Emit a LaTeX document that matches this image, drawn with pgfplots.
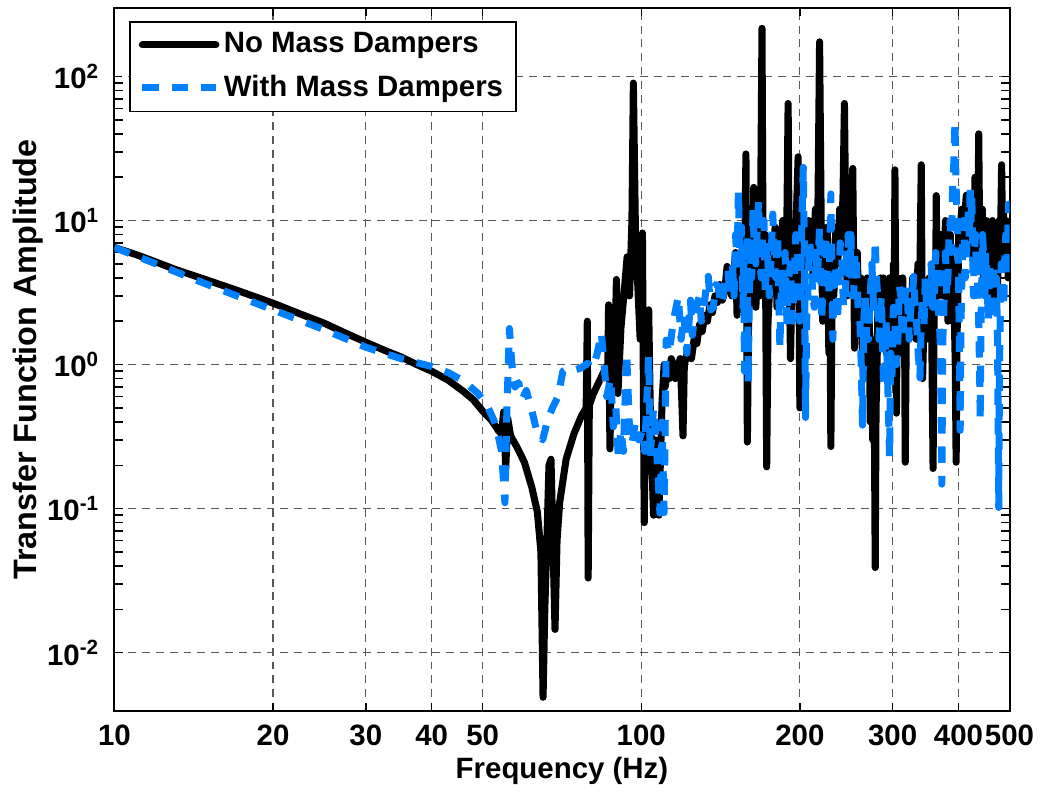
\documentclass[border=0pt]{standalone}
\usepackage{fontspec}
\setmainfont{Liberation Sans}
\usepackage{pgfplots}
\pgfplotsset{compat=1.18}
\definecolor{mdblue}{RGB}{0,128,255}

\begin{document}
\fontsize{10}{12}\selectfont\bfseries
\begin{tikzpicture}
\begin{axis}[
    xmode=log, ymode=log,
    scale only axis,
    width=304.3pt, height=238.9pt,
    xmin=10, xmax=500, ymin=0.00394, ymax=298,
    xtick={10,20,30,40,50,100,200,300,400,500},
    xticklabels={10,20,30,40,50,100,200,300,400,500},
    ytick={0.01,0.1,1,10,100},
    yticklabels={10\textsuperscript{-2},10\textsuperscript{-1},10\textsuperscript{0},10\textsuperscript{1},10\textsuperscript{2}},
    minor xtick={}, minor ytick={},
    tick align=inside,
    major tick length=2.7pt,
    tick style={black, line width=0.5pt},
    grid=major,
    grid style={dash pattern=on 2.7pt off 2pt, black!65, line width=0.4pt},
    axis line style={line width=0.7pt},
    tick label style={font=\fontsize{10}{12}\selectfont\bfseries},
    xticklabel style={anchor=base, yshift=-11.6pt},
    yticklabel style={xshift=-1.5pt},
    xlabel={Frequency (Hz)},
    ylabel={Transfer Function Amplitude},
    xlabel style={at={(axis description cs:0.5,0)}, anchor=center, yshift=-20.4pt, font=\fontsize{10}{12}\selectfont\bfseries},
    ylabel style={at={(axis description cs:-0.096,0.5)}, anchor=center, font=\fontsize{11}{12}\selectfont\bfseries},
    legend cell align=left,
    legend image code/.code={\draw[#1] (0pt,0pt) -- (25pt,0pt);},
    legend style={at={(axis description cs:0,1)}, anchor=north west,
        xshift=5pt, yshift=-4.3pt, draw=black, line width=0.6pt, fill=white,
        inner xsep=3pt, inner ysep=2.2pt, row sep=3pt,
        nodes={inner sep=1.5pt},
        font=\fontsize{10}{12}\selectfont\bfseries},
]
% no mass dampers
\addplot[black, line width=2.4pt, line join=round, line cap=round] table {
f A
10 6.5
11 5.8
12 5.15
13 4.6
14 4.2
15 3.86
17 3.3
20 2.67
22.5 2.25
25 1.94
27.5 1.65
30 1.43
32.5 1.26
35 1.13
37.5 1.0
40 0.90
43 0.78
46 0.65
48 0.57
50 0.475
52 0.41
53.5 0.35
54.3 0.33
54.8 0.47
55.3 0.19
55.8 0.42
56.5 0.32
58 0.27
60 0.21
62 0.14
63.5 0.095
64.5 0.05
65.1 0.0049
65.6 0.02
66.2 0.06
66.8 0.2
67.4 0.22
68.6 0.0145
69.2 0.06
70 0.11
72 0.22
74.5 0.33
77 0.44
78.6 0.5
79 2.0
79.3 0.033
79.7 0.52
81 0.62
83 0.75
85 0.9
86.4 1.0
86.7 2.6
87.2 0.26
87.8 1.1
89.2 1.4
89.7 3.9
90.3 0.63
91.5 1.8
93 3.5
94 5.6
95 3.0
96 10
96.6 90
97.5 8
98.5 3.5
99.5 1.5
100.5 8.2
101.3 0.08
102 0.8
103.3 2.4
104 0.5
105.5 0.09
106.5 0.3
108 0.09
109.5 0.55
110.5 1.0
111 0.7
112 0.9
113 0.8
114 1.1
115 1.0
116 0.8
117 0.9
118.5 1.1
119.3 0.6
120 0.32
120.7 1.0
121.5 1.1
123 1.3
124.5 1.1
126 1.5
127.5 1.4
129 1.9
130.5 1.7
132 2.2
133.5 2.0
135 2.6
136.5 2.3
138 3.0
139.5 2.7
141 3.6
142.5 2.8
144 3.2
145.5 4.8
147 4.2
148.5 3.0
150 4.5
151 6
152 2.2
153 4.5
154 3.6
155 6
156 2.4
157 4
158 29
159 0.29
160 3
160.5 5
161.2 3.5
162 8
162.8 5
163.5 17
164.2 6
165 2.5
166 4
167 6
168 3
169.5 216
170.3 5
171 3
172 8
173 0.195
174 2
175 3
176.5 7
178 5
179.5 9
181 2.5
182.5 5
184 4
185.5 10
187 8
188.5 4
190 65
191 4
192 1.1
193.5 5
195 3
196.5 8
198.5 27.7
199.3 3
200 0.5
201.5 4
203 3
204.5 6
206 5
208 10
210 8
212 4
214 12
216 6
218 174
219.5 10
221 2
222.5 8
224 5
225.5 9
227 1.2
228 4
229 0.27
230.5 6
232 3
234 9
236 5
238 12
240 8
241.5 15
243 65
244.5 8
246 3
247.5 10
249 20
250.5 6
252 23
253 5
254 1.3
255.5 5
257 6
259 2
261 4
262.5 1.5
264 0.8
265.5 3
267 2
268.5 4
270 1.0
271 2
272 0.4
273.5 1.5
275 0.3
276.5 1.2
278 0.039
279 0.5
280 0.8
281.5 3
283 2
284.5 4
286 1.5
288 4
290 3
292 1.2
294 2
296 4
298 2.5
299.5 1.0
301 5
302 2
303 22.5
304 3
305 0.46
306.5 4
308 3
310 1.2
312 2
313.5 4
315 1.2
316 2
317 0.21
318.5 2
320 3
322.5 1.5
325 2
327.5 4
330 3
332.5 1.5
335 5
337.5 3
340 24.4
341 4
342 0.8
344 2
346 3
348 1.5
350 2
352 4
354 3.5
356 1.5
358 0.19
359.5 2
361 5
362 3
363 14.9
364.5 4
366 3
368 6
370 8
372 4
374 3
376 6
378 10
380 4
382 2
384 5
386 8
388 3
390 5
391.5 3
393 2
394.5 1
396 0.21
397.5 1.5
399 3
400.5 8
402 6
404 10
406 12
408 6
410 8
412 12
414 15
416 7
418 10
420 6
422 14
424 7
426 9
428 5
430 20
432 8
434 15
435.5 10
437 40
438.5 10
440 8
442 5
444 12
446 4
448 6
450 3
452 10
453.5 5
455 3
456.5 8
458 6
460 3
462 4
464 10
466 8
468 3
470 5
472 9
474 3
476 6
478 10
480 5
483 24.4
485 8
487 12
489 6
491 5
493 10
495 8
497 4
500 5
};
\addlegendentry{No Mass Dampers}
% with mass dampers
\addplot[mdblue, line width=2.4pt, dash pattern=on 5.5pt off 4.5pt, line join=round] table {
f A
10 6.5
12 5.0
15 3.6
20 2.4
25 1.75
30 1.32
35 1.1
40 0.97
43 0.88
46 0.77
49 0.63
51 0.52
53 0.38
54.3 0.25
55.1 0.11
55.6 0.5
56.2 1.78
56.8 1.0
57.6 0.70
58.5 0.75
59.5 0.58
60.5 0.66
62 0.48
63.5 0.33
65 0.30
66.5 0.42
68 0.51
69.5 0.6
71 0.9
72.5 0.95
75 0.92
77 0.95
79 1.02
81 0.95
82.5 1.2
84 1.66
85 1.0
86 0.6
87.5 0.8
88.5 0.37
89.5 0.5
90.5 0.22
91.5 0.35
92.5 0.25
93.8 1.2
95 0.35
96 0.28
97.5 0.4
99 0.3
100.5 0.35
101.5 0.25
103.3 1.14
104 0.23
105.5 0.5
107 0.25
108.5 0.093
109.5 0.4
110.5 0.094
111.5 1.48
113 1.2
115 2.0
117.6 2.97
119 1.5
120.5 2.2
122 1.2
123 1.8
124 2.8
125 1.6
126 2.0
127.5 2.6
129 3.0
130 2.0
131 2.2
132.5 3.2
134 4.1
135.5 2.4
137 2.5
138.5 3.6
140 3.5
141.5 2.6
143 3.0
144.5 4.0
146 4.5
147.5 3.0
149 5
150 3
151 8
152 5
152.9 16.1
153.5 8
154 5
155 9
156 2.5
156.5 5
157 0.9
157.5 4
158 4
158.8 8
159.6 0.74
160.3 3
161 6
162 4
163 12
164 6
165 5
166 9
167 13.8
168 5
169 4
170 8
171 10
172 3
173 7
174 5
175 3
176.5 6
177.7 11.1
179 5
180 4
181.5 8
183.3 1.3
184.5 4
186 3
187.5 6
189 2
190.5 4
192 5
193.5 2
195 3.5
196.5 8
198 6
199 3
200 2
201.5 8
203 23.4
204 6
205 0.43
206 2
207 3
208.5 7
210 6
211.5 3
213 2.5
214.5 6
216 4
218 9
220 2
222 5
224 8
225.5 4
227 3
228 6
229 15.3
230 5
231 1.5
232.5 4
234 5
235.5 2
237 3
238.5 7
240 6
242 2.5
244 3
245.5 6
247 8
248.5 4
250 8
251.5 3
253 3
254.5 6
256 5
258 2.5
260 2
261.5 1
263 0.38
264.5 2
266 3
268 1.5
270 1.5
272 3
274 5
276 2.5
278 7.3
279.5 4
281 3
282.5 1.5
284 2
285.5 3
287 1.5
288.5 0.7
290 0.8
291.5 2
293 1.0
294.5 0.5
296 0.23
297.5 1.2
299 0.8
301 2.5
303 2
305 1.0
307 1.5
309 3.5
311 3
313 1.5
315 2
317.5 3.5
320 3
322.5 1.5
325 2.5
327 3
329 4.1
331 2.5
333 2
335.5 1.2
338 0.81
340 2
342 3
344 1.8
346 4
348 2.5
350 3
352.5 4.5
355 5
357.5 2.5
360 3
362 6
364 5
366 2.5
368 2
370 1.2
372 0.148
373.5 1.5
375 2
376.5 5
378 6
380 3
382 4
384 8
386 10
388 6
390 18
392 25
394 48.5
395.5 20
397 12
398.5 8
400 5
401.5 1.5
403 0.35
404.5 2
406 4
408 10
410 8
412 4
414 5
416 9
418 12
419.5 7
421 18
422.5 10
424 15
425.5 6
427 3
429 6
431 8
432.5 4
434 5
435.5 3
437 2
438.5 1.0
440 0.41
441.5 2
443 4
444.5 8
446 6
447.5 4
449 3
450.5 6
452 5
454 3
456 2
458 5
460 4
462 2.5
464 3
466 5
468 2
470 3
472 4
474.5 1.5
477 0.102
478.5 1
480 2
482 5
484 4
486 2.5
488 3
490 6
492 8
493.5 4
495 5
496.5 9
498 13
499 8
500 5
};
\addlegendentry{With Mass Dampers}
\end{axis}
\pgfresetboundingbox
\path ([xshift=-38.9pt,yshift=-27.3pt]current axis.south west) rectangle ([xshift=10.7pt,yshift=2.8pt]current axis.north east);
\end{tikzpicture}
\end{document}
